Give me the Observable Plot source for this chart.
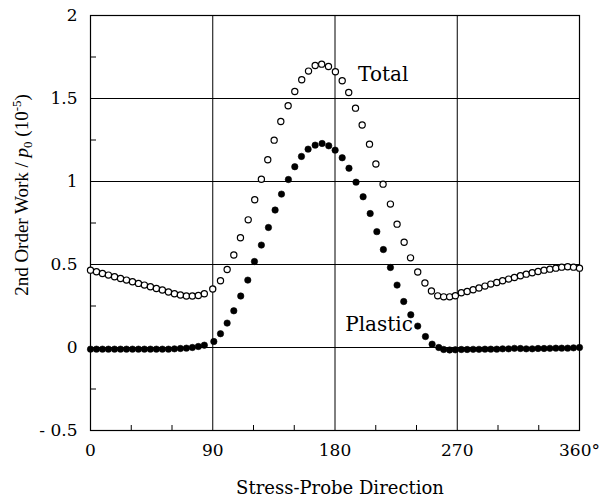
<!DOCTYPE html>
<html><head><meta charset="utf-8">
<script src="https://cdn.jsdelivr.net/npm/d3@7"></script>
<script src="https://cdn.jsdelivr.net/npm/@observablehq/plot@0.6"></script>
<style>
body{margin:0;background:#fff;}
#chart{width:604px;height:497px;}
</style></head><body><div id="chart"></div>
<script>
// Total (open circles)
const totalDeg = [0,4.4,8.8,13.2,17.7,22.1,26.5,30.9,35.3,39.7,44.1,48.5,52.9,57.4,61.8,66.2,70.6,75.0,79.4,83.8,90,
  95.7,100.6,105.5,110.4,116.1,120.9,125.8,130.5,135.2,140.1,145.5,150.4,155.5,160.5,165.4,170.2,175.2,180.3,185.3,190.1,
  195.1,200.0,205.4,210.1,215.4,220.8,225.7,230.9,235.6,240.9,246.2,251.0,255.6,260.0,264.4,
  268.6,273.0,277.3,281.7,286.0,290.4,294.7,299.1,303.4,307.8,312.1,316.5,320.8,325.2,329.5,333.9,338.2,342.6,346.9,351.3,355.6,360];
const totalVal = [0.466,0.456,0.446,0.436,0.426,0.416,0.406,0.396,0.386,0.376,0.366,0.355,0.346,0.334,0.324,0.316,0.310,0.310,0.313,0.324,0.352,
  0.402,0.470,0.557,0.661,0.769,0.890,1.014,1.131,1.249,1.361,1.456,1.542,1.613,1.665,1.699,1.707,1.693,1.661,1.607,1.536,
  1.442,1.340,1.225,1.105,0.984,0.864,0.743,0.634,0.540,0.455,0.389,0.340,0.311,0.305,0.305,
  0.312,0.330,0.337,0.348,0.358,0.370,0.382,0.392,0.402,0.412,0.422,0.432,0.442,0.450,0.458,0.466,0.472,0.478,0.484,0.486,0.484,0.478];
// Plastic (filled dots)
const plasticDeg = [0,4.4,8.8,13.2,17.7,22.1,26.5,30.9,35.3,39.7,44.1,48.5,52.9,57.4,61.8,66.2,70.6,75.0,79.4,83.8,
  90.8,95.7,100.6,105.5,110.6,115.8,120.7,125.8,131.0,135.9,140.6,145.7,150.4,155.3,160.2,165.4,170.5,175.4,180.1,185.3,
  190.3,195.5,200.7,205.9,210.8,215.6,220.8,225.7,230.6,235.8,240.9,246.6,251.5,256.4,
  260.0,264.4,268.6,273.0,277.3,281.7,286.0,290.4,294.7,299.1,303.4,307.8,312.1,316.5,320.8,325.2,329.5,333.9,338.2,342.6,346.9,351.3,355.6,360];
const plasticVal = [-0.010,-0.010,-0.010,-0.010,-0.010,-0.010,-0.010,-0.010,-0.010,-0.010,-0.010,-0.010,-0.010,-0.010,-0.008,-0.006,-0.004,0.000,0.006,0.014,
  0.036,0.083,0.147,0.221,0.310,0.406,0.518,0.617,0.723,0.828,0.924,1.012,1.089,1.151,1.195,1.219,1.229,1.215,1.189,1.143,
  1.080,0.996,0.908,0.807,0.698,0.590,0.482,0.376,0.277,0.197,0.129,0.066,0.020,0.000,
  -0.012,-0.015,-0.014,-0.012,-0.012,-0.011,-0.011,-0.010,-0.010,-0.010,-0.008,-0.008,-0.005,-0.006,-0.008,-0.008,-0.006,-0.006,-0.005,-0.004,-0.004,-0.004,-0.002,0.000];

const xTicks = [0, 90, 180, 270, 360];
const xTickLabels = ["0", "90", "180", "270", "360°"];
const yTicks = [-0.5, 0, 0.5, 1, 1.5, 2];
const yTickLabels = ["- 0.5", "0", "0.5", "1", "1.5", "2"];
const xMinor = [30, 60, 120, 150, 210, 240, 300, 330];
const yMinor = [-0.25, 0.25, 0.75, 1.25, 1.75];
const seriesNames = ["Total", "Plastic"];
const seriesLabelDeg = [197, 187.5];
const seriesLabelVal = [1.607, 0.10];
const xTitle = "Stress-Probe Direction";

const total = totalDeg.map((d, i) => ({deg: d, val: totalVal[i]}));
const plastic = plasticDeg.map((d, i) => ({deg: d, val: plasticVal[i]}));
const labels = seriesNames.map((n, i) => ({name: n, deg: seriesLabelDeg[i], val: seriesLabelVal[i]}));

const W = 604, H = 497;
const mL = 90, mR = 25, mT = 15, mB = 67;
const innerW = W - mL - mR, innerH = H - mT - mB;

const svg = Plot.plot({
  width: W, height: H,
  marginLeft: mL, marginRight: mR, marginTop: mT, marginBottom: mB,
  style: {fontFamily: "DejaVu Serif", fontSize: "17px", background: "white", color: "black"},
  x: {domain: [0, 360]},
  y: {domain: [-0.5, 2]},
  marks: [
    Plot.gridX(xTicks, {stroke: "black", strokeOpacity: 1, strokeWidth: 1}),
    Plot.gridY(yTicks, {stroke: "black", strokeOpacity: 1, strokeWidth: 1}),
    Plot.frame({stroke: "black", strokeWidth: 1.2}),
    Plot.tickX(xMinor, {x: d => d, insetTop: innerH - 5, stroke: "black"}),
    Plot.tickY(yMinor, {y: d => d, insetRight: innerW - 6, stroke: "black"}),
    Plot.axisX(xTicks, {tickSize: 0, tickPadding: 13, tickFormat: d => xTickLabels[xTicks.indexOf(d)], label: null, fontSize: 17}),
    Plot.axisY(yTicks, {tickSize: 0, tickPadding: 13, tickFormat: d => yTickLabels[yTicks.indexOf(d)], label: null, fontSize: 17}),
    Plot.dot(plastic, {x: "deg", y: "val", r: 3.2, fill: "black", stroke: "black", strokeWidth: 0.6}),
    Plot.dot(total, {x: "deg", y: "val", r: 3.1, fill: "white", stroke: "black", strokeWidth: 1.2}),
    Plot.text(labels, {x: "deg", y: "val", text: "name", textAnchor: "start", lineAnchor: "bottom", fontSize: 20, fill: "black"})
  ]
});

const s = d3.select(svg);
s.append("text")
  .attr("x", 340).attr("y", 494)
  .attr("text-anchor", "middle")
  .attr("font-family", "DejaVu Serif").attr("font-size", 18).attr("fill", "black")
  .text(xTitle);

const yl = s.append("text")
  .attr("transform", "translate(28,195) rotate(-90)")
  .attr("text-anchor", "middle")
  .attr("font-family", "Liberation Serif").attr("font-size", 19).attr("fill", "black");
yl.append("tspan").text("2nd Order Work / ");
yl.append("tspan").attr("font-style", "italic").text("p");
yl.append("tspan").attr("font-size", 13).attr("dy", 4).text("0");
yl.append("tspan").attr("dy", -4).text(" (10");
yl.append("tspan").attr("font-size", 13).attr("dy", -7).text("-5");
yl.append("tspan").attr("dy", 7).text(")");

document.getElementById("chart").appendChild(svg);
</script></body></html>
